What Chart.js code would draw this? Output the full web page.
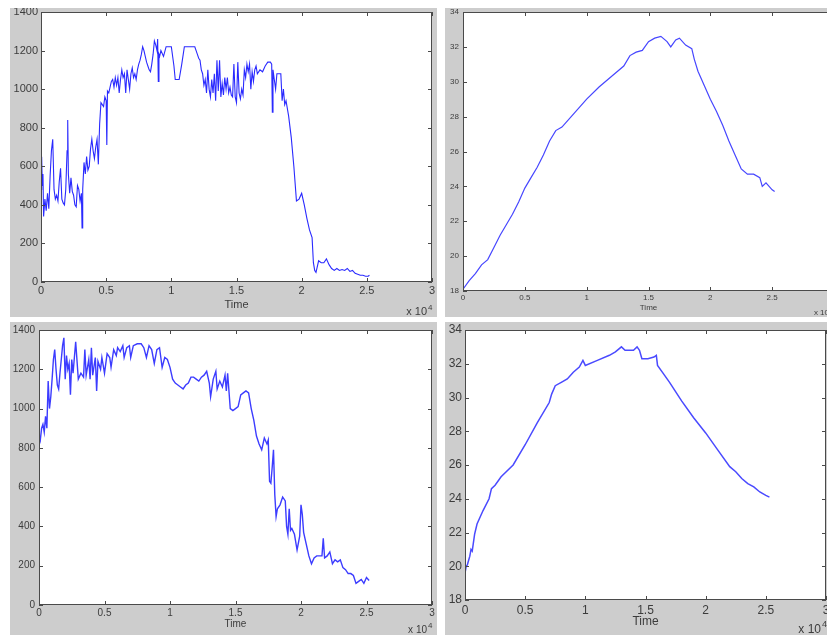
<!DOCTYPE html>
<html>
<head>
<meta charset="utf-8">
<script src="https://cdn.jsdelivr.net/npm/chart.js@4.4.1/dist/chart.umd.min.js"></script>
<style>
  html, body { margin: 0; padding: 0; background: #fff; overflow: hidden; width: 827px; height: 635px; }
  canvas { position: absolute; background: #cdcdcd; }
</style>
</head>
<body>
<canvas id="panelA" width="427" height="309" style="left:10px;top:8px"></canvas>
<canvas id="panelB" width="395" height="309" style="left:445px;top:8px"></canvas>
<canvas id="panelC" width="427" height="313" style="left:10px;top:322px"></canvas>
<canvas id="panelD" width="395" height="313" style="left:445px;top:322px"></canvas>
<script>
// time axis is in units of 1e4
const timeTicks = [0, 0.5, 1, 1.5, 2, 2.5, 3];
const powerTicks = [0, 200, 400, 600, 800, 1000, 1200, 1400];
const tempTicks = [18, 20, 22, 24, 26, 28, 30, 32, 34];

// top left
const timeA = [
  0, 0.005, 0.01, 0.015, 0.02, 0.03, 0.04, 0.05, 0.06, 0.07,
  0.08, 0.09, 0.10, 0.11, 0.12, 0.13, 0.14, 0.15, 0.16, 0.17,
  0.18, 0.19, 0.20, 0.205, 0.21, 0.22, 0.23, 0.24, 0.25, 0.26,
  0.27, 0.28, 0.29, 0.30, 0.31, 0.315, 0.32, 0.33, 0.34, 0.35,
  0.36, 0.37, 0.38, 0.39, 0.40, 0.41, 0.42, 0.43, 0.44, 0.45,
  0.46, 0.47, 0.48, 0.49, 0.50, 0.505, 0.51, 0.52, 0.53, 0.54,
  0.55, 0.56, 0.57, 0.58, 0.59, 0.60, 0.61, 0.62, 0.63, 0.64,
  0.65, 0.66, 0.67, 0.68, 0.69, 0.70, 0.71, 0.72, 0.73, 0.74,
  0.75, 0.76, 0.77, 0.78, 0.79, 0.80, 0.81, 0.82, 0.83, 0.84,
  0.85, 0.86, 0.87, 0.88, 0.89, 0.895, 0.90, 0.905, 0.91, 0.92,
  0.94, 0.96, 0.98, 1.00, 1.02, 1.03, 1.06, 1.08, 1.10, 1.18,
  1.20, 1.21, 1.22, 1.23, 1.24, 1.25, 1.26, 1.27, 1.28, 1.29,
  1.30, 1.31, 1.32, 1.33, 1.34, 1.35, 1.36, 1.37, 1.38, 1.39,
  1.40, 1.41, 1.42, 1.43, 1.44, 1.45, 1.46, 1.47, 1.48, 1.49,
  1.50, 1.51, 1.52, 1.53, 1.54, 1.55, 1.56, 1.57, 1.58, 1.59,
  1.60, 1.61, 1.62, 1.63, 1.64, 1.65, 1.66, 1.68, 1.70, 1.72,
  1.74, 1.76, 1.77, 1.775, 1.78, 1.79, 1.80, 1.81, 1.82, 1.84,
  1.85, 1.86, 1.87, 1.88, 1.90, 1.92, 1.94, 1.96, 1.98, 2.00,
  2.02, 2.04, 2.06, 2.08, 2.09, 2.10, 2.11, 2.13, 2.15, 2.17,
  2.19, 2.21, 2.23, 2.25, 2.27, 2.29, 2.31, 2.33, 2.35, 2.37,
  2.39, 2.41, 2.43, 2.45, 2.47, 2.49, 2.51, 2.52
];
const valuesA = [
  480, 650, 500, 560, 340, 430, 370, 460, 380, 550,
  680, 740, 480, 430, 450, 420, 520, 590, 430, 410,
  400, 480, 680, 840, 560, 460, 540, 470, 450, 400,
  390, 500, 480, 420, 460, 280, 480, 620, 560, 650,
  580, 600, 690, 740, 680, 640, 700, 740, 610, 820,
  930, 920, 910, 960, 940, 710, 990, 980, 1010, 1040,
  1050, 1010, 1060, 1020, 1060, 980, 1050, 1100, 1060, 1080,
  980, 1100, 1050, 1000, 1080, 1110, 1060, 1080, 1050, 1100,
  1130, 1150, 1180, 1220, 1200, 1170, 1140, 1120, 1100, 1090,
  1130, 1180, 1250, 1230, 1200, 1260, 1040, 1180, 1170, 1200,
  1170, 1220, 1220, 1220, 1120, 1050, 1050, 1130, 1220, 1220,
  1180, 1160, 1150, 1100, 1080, 1020, 1050, 980, 1100, 1000,
  960, 1050, 980, 1080, 940, 1150, 990, 1150, 960, 1030,
  970, 1060, 1000, 1060, 980, 1010, 970, 960, 1130, 960,
  930, 1140, 980, 950, 1000, 970, 1100, 1060, 1130, 1090,
  1130, 1000, 1090, 1040, 1100, 1120, 1080, 1100, 1090, 1120,
  1140, 1140, 1130, 880, 1100, 1050, 1000, 1080, 1080, 1080,
  940, 1000, 920, 940, 860, 750, 600, 420, 430, 460,
  400, 330, 270, 230, 100, 60, 50, 110, 100, 100,
  120, 90, 70, 60, 70, 60, 65, 60, 70, 55,
  60, 45, 40, 35, 35, 30, 30, 35
];

// top right
const timeB = [
  0, 0.05, 0.1, 0.15, 0.2, 0.25, 0.3, 0.35, 0.4, 0.45,
  0.5, 0.55, 0.6, 0.65, 0.7, 0.75, 0.8, 0.9, 1.0, 1.1,
  1.2, 1.3, 1.35, 1.4, 1.45, 1.5, 1.55, 1.6, 1.65, 1.68,
  1.72, 1.75, 1.8, 1.85, 1.87, 1.9, 1.95, 2.0, 2.05, 2.1,
  2.15, 2.2, 2.25, 2.3, 2.35, 2.4, 2.42, 2.45, 2.5, 2.52
];
const valuesB = [
  18.1, 18.6, 19.0, 19.5, 19.8, 20.5, 21.2, 21.8, 22.4, 23.1,
  23.9, 24.5, 25.1, 25.8, 26.6, 27.2, 27.4, 28.2, 29.0, 29.7,
  30.3, 30.9, 31.5, 31.7, 31.8, 32.3, 32.5, 32.6, 32.3, 32.0,
  32.4, 32.5, 32.1, 31.9, 31.3, 30.6, 29.8, 29.0, 28.3, 27.5,
  26.6, 25.8, 25.0, 24.7, 24.7, 24.5, 24.0, 24.2, 23.8, 23.7
];

// bottom left
const timeC = [
  0, 0.01, 0.02, 0.03, 0.04, 0.05, 0.06, 0.07, 0.08, 0.09,
  0.10, 0.11, 0.12, 0.13, 0.14, 0.15, 0.16, 0.17, 0.18, 0.19,
  0.20, 0.21, 0.22, 0.23, 0.24, 0.25, 0.26, 0.28, 0.30, 0.32,
  0.34, 0.35, 0.36, 0.38, 0.39, 0.40, 0.41, 0.43, 0.44, 0.45,
  0.47, 0.48, 0.50, 0.52, 0.54, 0.55, 0.57, 0.59, 0.60, 0.62,
  0.64, 0.65, 0.67, 0.69, 0.70, 0.72, 0.75, 0.78, 0.80, 0.82,
  0.84, 0.86, 0.88, 0.90, 0.92, 0.94, 0.96, 0.98, 1.00, 1.02,
  1.04, 1.06, 1.08, 1.10, 1.12, 1.14, 1.16, 1.18, 1.20, 1.22,
  1.24, 1.26, 1.28, 1.30, 1.31, 1.33, 1.35, 1.36, 1.38, 1.40,
  1.42, 1.43, 1.44, 1.46, 1.48, 1.50, 1.52, 1.54, 1.56, 1.58,
  1.60, 1.62, 1.64, 1.66, 1.68, 1.70, 1.72, 1.74, 1.75, 1.76,
  1.77, 1.78, 1.79, 1.80, 1.81, 1.82, 1.84, 1.86, 1.88, 1.89,
  1.90, 1.91, 1.92, 1.93, 1.95, 1.97, 1.99, 2.00, 2.01, 2.02,
  2.04, 2.06, 2.08, 2.10, 2.12, 2.14, 2.16, 2.17, 2.18, 2.20,
  2.22, 2.24, 2.26, 2.28, 2.30, 2.32, 2.34, 2.36, 2.38, 2.40,
  2.42, 2.44, 2.46, 2.48, 2.50, 2.52
];
const valuesC = [
  870, 840, 900, 920, 880, 960, 900, 1140, 1000, 1060,
  1150, 1250, 1300, 1200, 1120, 1100, 1180, 1250, 1320, 1360,
  1150, 1270, 1200, 1230, 1070, 1250, 1180, 1340, 1150, 1180,
  1160, 1300, 1170, 1250, 1150, 1310, 1170, 1260, 1090, 1240,
  1200, 1260, 1180, 1280, 1260, 1210, 1300, 1270, 1310, 1290,
  1320, 1260, 1310, 1320, 1260, 1320, 1330, 1330, 1310, 1260,
  1320, 1300, 1230, 1300, 1310, 1210, 1260, 1250, 1210, 1150,
  1130, 1120, 1110, 1100, 1120, 1130, 1160, 1160, 1150, 1140,
  1160, 1170, 1190, 1130, 1060, 1150, 1190, 1100, 1140, 1110,
  1170, 1090, 1180, 1000, 990, 1000, 1010, 1070, 1080, 1090,
  1080, 1000, 940, 860, 820, 790, 850, 820, 840, 630,
  620, 700, 790, 560, 450, 490, 510, 550, 530, 400,
  360, 490, 380, 390, 360, 280, 350, 510, 460, 370,
  310, 250, 210, 240, 250, 250, 250, 340, 240, 250,
  270, 210, 230, 220, 230, 190, 180, 160, 160, 150,
  110, 120, 130, 110, 140, 125
];

// bottom right
const timeD = [
  0, 0.01, 0.02, 0.04, 0.05, 0.06, 0.08, 0.10, 0.15, 0.20,
  0.22, 0.25, 0.3, 0.4, 0.5, 0.6, 0.7, 0.72, 0.75, 0.8,
  0.85, 0.9, 0.95, 0.98, 1.0, 1.1, 1.2, 1.25, 1.3, 1.33,
  1.36, 1.4, 1.43, 1.45, 1.47, 1.52, 1.57, 1.59, 1.6, 1.65,
  1.7, 1.8, 1.9, 2.0, 2.1, 2.2, 2.25, 2.3, 2.35, 2.4,
  2.45, 2.5, 2.53
];
const valuesD = [
  19.6, 20.0, 20.1, 20.6, 21.0, 20.9, 21.9, 22.5, 23.3, 24.0,
  24.6, 24.8, 25.3, 26.0, 27.2, 28.5, 29.7, 30.2, 30.7, 30.9,
  31.1, 31.5, 31.8, 32.2, 31.9, 32.2, 32.5, 32.7, 33.0, 32.8,
  32.8, 32.8, 33.0, 32.8, 32.3, 32.3, 32.4, 32.5, 31.9, 31.4,
  30.9, 29.8, 28.8, 27.9, 26.9, 25.9, 25.6, 25.2, 24.9, 24.7,
  24.4, 24.2, 24.1
];

const FONT = '"Liberation Sans", Arial, sans-serif';
const TEXT = '#3c3c3c';

// white axes box, black frame with inward ticks, and the "x 10^4" note
const matlabAxes = {
  id: 'matlabAxes',
  beforeDraw(chart) {
    const { ctx, chartArea: a } = chart;
    ctx.save();
    ctx.fillStyle = '#fff';
    ctx.fillRect(a.left, a.top, a.right - a.left, a.bottom - a.top);
    ctx.restore();
  },
  afterDraw(chart, args, opts) {
    const { ctx, chartArea: a, scales } = chart;
    const tick = 4;
    ctx.save();
    ctx.strokeStyle = '#4a4a4a';
    ctx.lineWidth = 1;
    ctx.strokeRect(a.left + 0.5, a.top + 0.5, a.right - a.left - 1, a.bottom - a.top - 1);
    ctx.beginPath();
    scales.x.ticks.forEach(t => {
      const x = Math.round(scales.x.getPixelForValue(t.value)) + 0.5;
      ctx.moveTo(x, a.bottom); ctx.lineTo(x, a.bottom - tick);
      ctx.moveTo(x, a.top); ctx.lineTo(x, a.top + tick);
    });
    scales.y.ticks.forEach(t => {
      const y = Math.round(scales.y.getPixelForValue(t.value)) + 0.5;
      ctx.moveTo(a.left, y); ctx.lineTo(a.left + tick, y);
      ctx.moveTo(a.right, y); ctx.lineTo(a.right - tick, y);
    });
    ctx.stroke();

    ctx.fillStyle = TEXT;
    ctx.textBaseline = 'alphabetic';
    ctx.font = opts.size + 'px ' + FONT;
    ctx.textAlign = 'right';
    const bx = a.right - opts.inset;
    const by = chart.height - 2;
    ctx.fillText('x 10', bx, by);
    ctx.textAlign = 'left';
    ctx.font = Math.round(opts.size * 0.75) + 'px ' + FONT;
    ctx.fillText('4', bx + 1, by - opts.size * 0.5);
    ctx.restore();
  }
};

function makePanel(id, times, values, yTicks, look) {
  const points = times.map((t, i) => ({ x: t, y: values[i] }));
  new Chart(document.getElementById(id), {
    type: 'line',
    data: {
      datasets: [{
        data: points,
        borderColor: look.color,
        borderWidth: look.lineWidth,
        pointRadius: 0,
        tension: 0,
        fill: false
      }]
    },
    options: {
      responsive: false,
      animation: false,
      devicePixelRatio: 1,
      layout: { padding: { left: 0, top: look.top, right: look.right, bottom: 0 } },
      plugins: {
        legend: { display: false },
        tooltip: { enabled: false },
        matlabAxes: { size: look.font, inset: 5 }
      },
      scales: {
        x: {
          type: 'linear',
          min: timeTicks[0],
          max: timeTicks[timeTicks.length - 1],
          afterBuildTicks: s => { s.ticks = timeTicks.map(v => ({ value: v })); },
          afterFit: s => { s.height = look.xHeight; s.paddingLeft = 0; s.paddingRight = 0; },
          grid: { display: false, drawTicks: false },
          border: { display: false },
          ticks: {
            autoSkip: false, maxRotation: 0, padding: look.xPad,
            color: TEXT, font: { family: FONT, size: look.font },
            callback: v => String(v)
          },
          title: {
            display: true, text: 'Time', color: TEXT,
            font: { family: FONT, size: look.font },
            padding: { top: 0, bottom: look.titlePad }
          }
        },
        y: {
          min: yTicks[0],
          max: yTicks[yTicks.length - 1],
          afterBuildTicks: s => { s.ticks = yTicks.map(v => ({ value: v })); },
          afterFit: s => { s.width = look.yWidth; s.paddingTop = 0; s.paddingBottom = 0; },
          grid: { display: false, drawTicks: false },
          border: { display: false },
          ticks: {
            autoSkip: false, padding: look.yPad,
            color: TEXT, font: { family: FONT, size: look.font },
            callback: v => String(v)
          }
        }
      }
    },
    plugins: [matlabAxes]
  });
}

makePanel('panelA', timeA, valuesA, powerTicks, {
  color: '#2a2aff', lineWidth: 1.1, font: 11,
  yWidth: 31, xHeight: 35, top: 4, right: 5, xPad: 2, yPad: 3, titlePad: 5
});
makePanel('panelB', timeB, valuesB, tempTicks, {
  color: '#4646ff', lineWidth: 1.2, font: 8,
  yWidth: 18, xHeight: 26, top: 4, right: 6, xPad: 2, yPad: 4, titlePad: 4
});
makePanel('panelC', timeC, valuesC, powerTicks, {
  color: '#3c3cff', lineWidth: 1.4, font: 10,
  yWidth: 29, xHeight: 30, top: 8, right: 5, xPad: 2, yPad: 4, titlePad: 5
});
makePanel('panelD', timeD, valuesD, tempTicks, {
  color: '#4a4aff', lineWidth: 1.5, font: 12,
  yWidth: 20, xHeight: 35, top: 8, right: 14, xPad: 3, yPad: 3, titlePad: 6
});
</script>
</body>
</html>
